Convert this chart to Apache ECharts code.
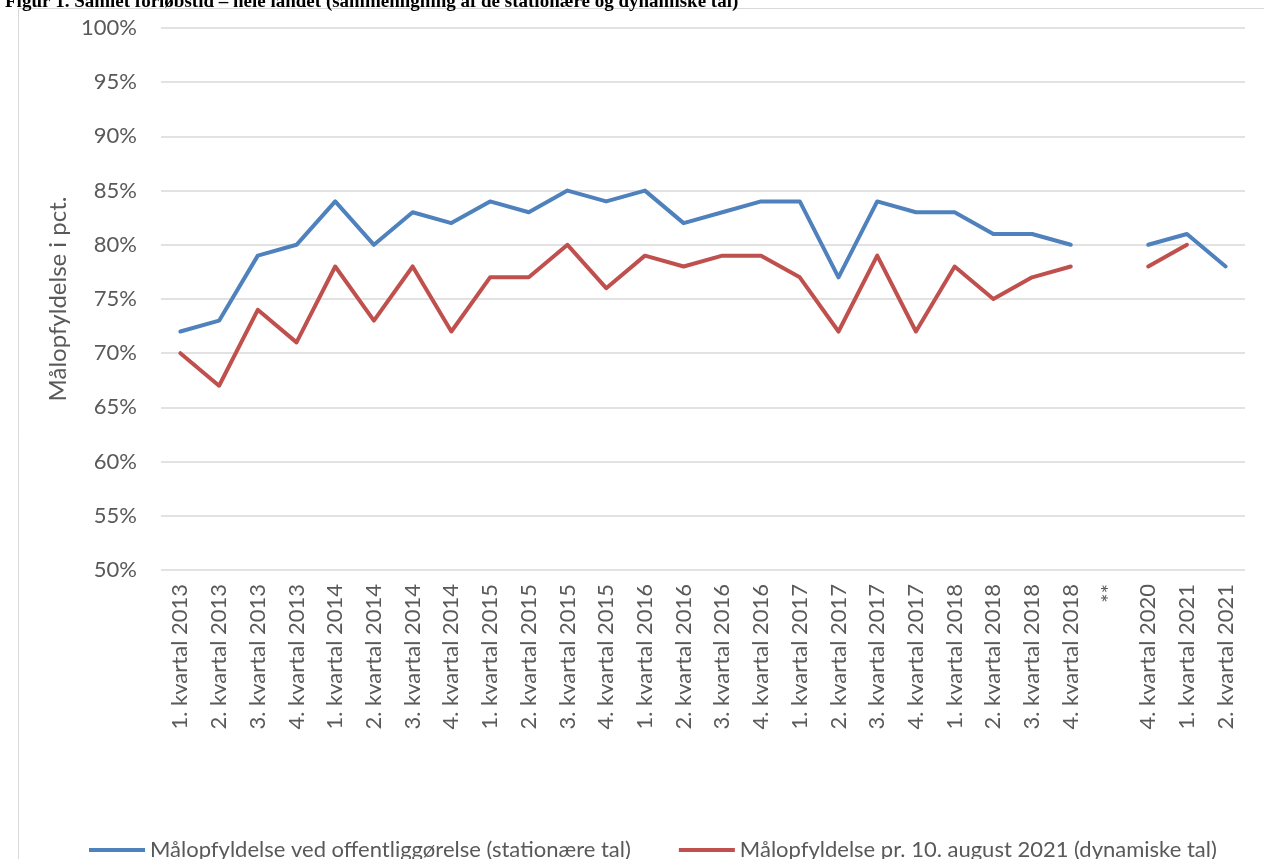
<!DOCTYPE html>
<html>
<head>
<meta charset="utf-8">
<script src="https://cdn.jsdelivr.net/npm/echarts@6/dist/echarts.min.js"></script>
<style>
  html, body { margin: 0; padding: 0; background: #fff; }
  #chart { width: 1264px; height: 859px; }
</style>
</head>
<body>
<div id="chart"></div>
<script>
const categories = [
  '1. kvartal 2013', '2. kvartal 2013', '3. kvartal 2013', '4. kvartal 2013',
  '1. kvartal 2014', '2. kvartal 2014', '3. kvartal 2014', '4. kvartal 2014',
  '1. kvartal 2015', '2. kvartal 2015', '3. kvartal 2015', '4. kvartal 2015',
  '1. kvartal 2016', '2. kvartal 2016', '3. kvartal 2016', '4. kvartal 2016',
  '1. kvartal 2017', '2. kvartal 2017', '3. kvartal 2017', '4. kvartal 2017',
  '1. kvartal 2018', '2. kvartal 2018', '3. kvartal 2018', '4. kvartal 2018',
  '**', '4. kvartal 2020', '1. kvartal 2021', '2. kvartal 2021'
];

// '-' = no value (gap)
const stationaer = [72, 73, 79, 80, 84, 80, 83, 82, 84, 83, 85, 84, 85, 82, 83, 84, 84, 77, 84, 83, 83, 81, 81, 80, '-', 80, 81, 78];
const dynamisk = [70, 67, 74, 71, 78, 73, 78, 72, 77, 77, 80, 76, 79, 78, 79, 79, 77, 72, 79, 72, 78, 75, 77, 78, '-', 78, 80, '-'];

const seriesNames = [
  'Målopfyldelse ved offentliggørelse (stationære tal)',
  'Målopfyldelse pr. 10. august 2021 (dynamiske tal)'
];

const font = 'Lato';

const myChart = echarts.init(document.getElementById('chart'));

const option = {
  color: ['#4F81BD', '#C0504D'],
  animation: false,
  textStyle: { fontFamily: font },
  title: {
    text: 'Figur 1. Samlet forløbstid – hele landet (sammenligning af de stationære og dynamiske tal)',
    left: 0,
    top: -12,
    textStyle: {
      fontFamily: 'Liberation Serif',
      fontWeight: 'bold',
      fontSize: 19,
      color: '#000'
    }
  },
  graphic: [{
    type: 'rect',
    shape: { x: 18.5, y: 8.5, width: 1260, height: 860 },
    style: { fill: 'none', stroke: '#d9d9d9', lineWidth: 1 },
    silent: true
  }],
  legend: {
    top: 839,
    left: 89,
    padding: 0,
    itemWidth: 56,
    itemHeight: 4,
    itemGap: 48,
    itemTextGap: 4,
    icon: 'rect',
    textStyle: { fontSize: 22, color: '#595959', fontFamily: font },
    data: seriesNames
  },
  grid: {
    left: 161,
    right: 19,
    top: 28,
    bottom: 289,
    containLabel: false
  },
  xAxis: {
    type: 'category',
    data: categories,
    boundaryGap: true,
    axisLine: { show: false },
    axisTick: { show: false },
    axisLabel: {
      rotate: 90,
      interval: 0,
      margin: 14,
      fontSize: 22,
      color: '#595959',
      fontFamily: font
    }
  },
  yAxis: {
    type: 'value',
    min: 50,
    max: 100,
    interval: 5,
    name: 'Målopfyldelse i pct.',
    nameLocation: 'middle',
    nameGap: 90,
    nameTextStyle: { fontSize: 24, color: '#595959', fontFamily: font },
    axisLine: { show: false },
    axisTick: { show: false },
    axisLabel: {
      formatter: '{value}%',
      margin: 24,
      fontSize: 22,
      color: '#595959',
      fontFamily: font
    },
    splitLine: { lineStyle: { color: '#d9d9d9', width: 1.5 } }
  },
  series: [
    {
      name: seriesNames[0],
      type: 'line',
      data: stationaer,
      symbol: 'none',
      connectNulls: false,
      lineStyle: { width: 4, cap: 'round', join: 'round' }
    },
    {
      name: seriesNames[1],
      type: 'line',
      data: dynamisk,
      symbol: 'none',
      connectNulls: false,
      lineStyle: { width: 4, cap: 'round', join: 'round' }
    }
  ]
};

myChart.setOption(option);
</script>
</body>
</html>
